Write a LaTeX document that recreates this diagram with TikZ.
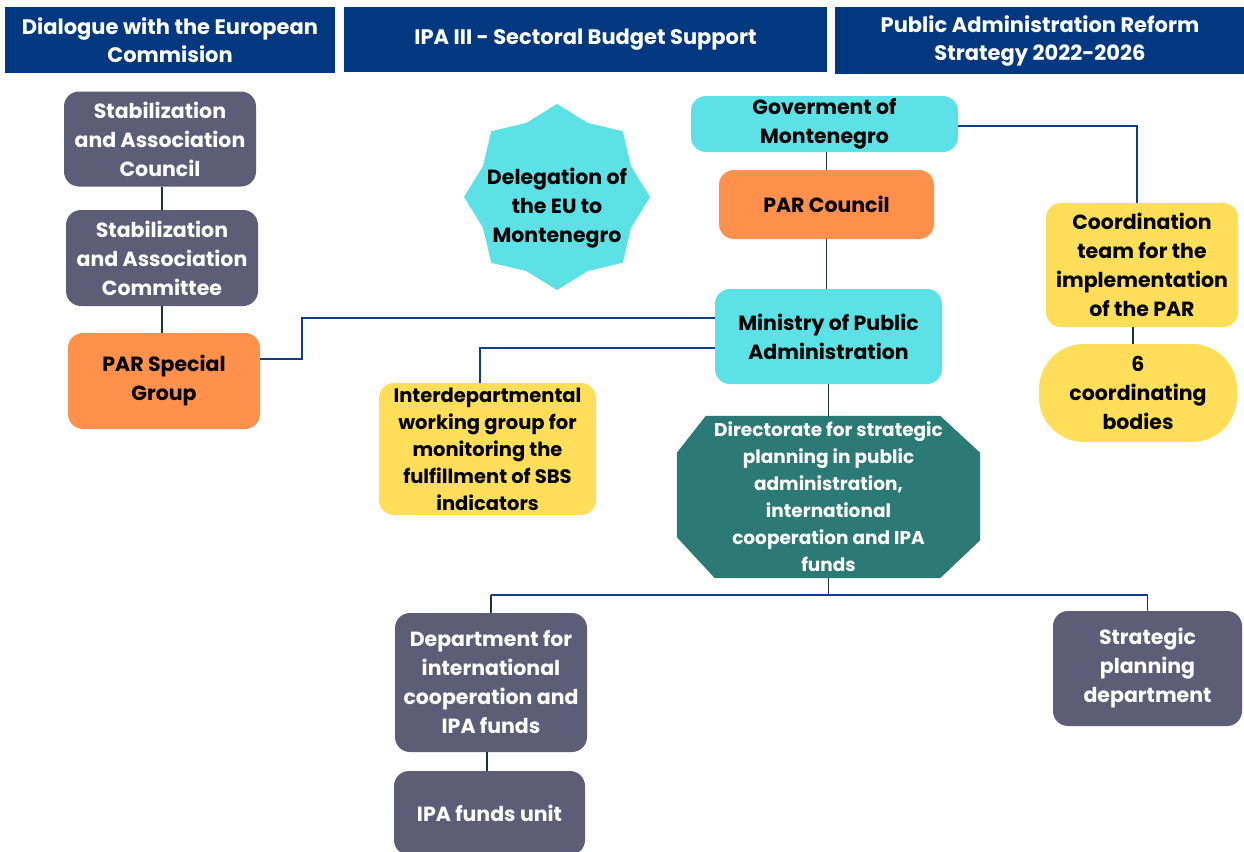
\documentclass[tikz,border=0pt]{standalone}
\usepackage{fontspec}
\setmainfont{Poppins}
\usepackage{tikz}
\usetikzlibrary{shapes.geometric,calc,backgrounds}

\definecolor{headblue}{RGB}{1,56,128}
\definecolor{slate}{RGB}{94,93,120}
\definecolor{parorange}{RGB}{255,145,77}
\definecolor{aqua}{RGB}{92,225,230}
\definecolor{sun}{RGB}{255,222,89}
\definecolor{deepteal}{RGB}{44,122,118}
\definecolor{linedark}{RGB}{28,52,52}
\definecolor{lineblue}{RGB}{14,62,140}

\tikzset{
  box/.style={rounded corners=15pt, align=center, inner sep=0pt,
    font=\fontsize{20.5}{29}\selectfont\bfseries},
  header/.style={fill=headblue, text=white, align=center, inner sep=0pt,
    font=\fontsize{21}{28}\selectfont\bfseries},
  slatebox/.style={box, fill=slate, text=white, minimum width=192pt},
  orangebox/.style={box, fill=parorange, text=black},
  cyanbox/.style={box, fill=aqua, text=black},
  yellowbox/.style={box, fill=sun, text=black},
  darkline/.style={draw=linedark, line width=1.6pt},
  blueline/.style={draw=lineblue, line width=2.2pt}
}

\begin{document}
\begin{tikzpicture}[x=1pt, y=-1pt]
\useasboundingbox (0,0) rectangle (1244,851);

% column headers
\node[header, minimum width=330pt, minimum height=66pt] (dialogue) at (170,40) {Dialogue with the European\\Commision};
\node[header, minimum width=483pt, minimum height=65pt] (ipa3) at (585.5,39.5) {IPA III - Sectoral Budget Support};
\node[header, minimum width=410pt, minimum height=67pt] (strategy) at (1040,40.5) {Public Administration Reform\\Strategy 2022-2026};

% left column
\node[slatebox, minimum height=95pt] (council) at (160,139) {Stabilization\\and Association\\Council};
\node[slatebox, minimum height=96pt] (committee) at (162,258) {Stabilization\\and Association\\Committee};
\node[orangebox, minimum width=192pt, minimum height=96pt] (special) at (164,381) {PAR Special\\Group};

% middle
\node[star, star points=8, star point ratio=1.16, minimum size=186pt, inner sep=0pt, fill=aqua] (deleg) at (557,197) {};
\node[box] (delegtext) at (557,208) {Delegation of\\the EU to\\Montenegro};
\node[cyanbox, minimum width=267pt, minimum height=56pt] (gov) at (824.5,124) {Goverment of\\Montenegro};
\node[orangebox, minimum width=215pt, minimum height=69pt] (parcouncil) at (826.5,204.5) {PAR Council};
\node[cyanbox, minimum width=227pt, minimum height=95pt] (ministry) at (828.5,336.5) {Ministry of Public\\Administration};
\node[yellowbox, minimum width=217pt, minimum height=132pt, font=\fontsize{19.5}{27}\selectfont\bfseries] (interdept) at (487.5,449) {Interdepartmental\\working group for\\monitoring the\\fulfillment of SBS\\indicators};
\node[align=center, text=white, inner sep=0pt, minimum width=303pt, minimum height=162pt, font=\fontsize{18.5}{27}\selectfont\bfseries] (directorate) at (828.5,497) {Directorate for strategic\\planning in public\\administration,\\international\\cooperation and IPA\\funds};

% right column
\node[yellowbox, minimum width=192pt, minimum height=124pt] (coord) at (1142,265) {Coordination\\team for the\\implementation\\of the PAR};
\node[yellowbox, rounded corners=45pt, minimum width=198pt, minimum height=98pt] (bodies) at (1138,393) {6\\coordinating\\bodies};

% bottom row
\node[slatebox, minimum height=139pt] (dept) at (491,682.5) {Department for\\international\\cooperation and\\IPA funds};
\node[slatebox, minimum width=189pt, minimum height=115pt] (strat) at (1147.5,668.5) {Strategic\\planning\\department};
\node[slatebox, minimum width=191pt, minimum height=84pt] (unit) at (489.5,813) {IPA funds unit};

% connectors
\draw[darkline] (committee.north |- council.south) -- (committee.north);
\draw[darkline] (committee.south) -- (committee.south |- special.north);
\draw[blueline] ([yshift=22pt]special.east) -- ++(42,0) |- ([yshift=18.5pt]ministry.west);
\draw[blueline] ([yshift=-11.5pt]ministry.west) -| ([xshift=-7.5pt]interdept.north);
\draw[darkline] (parcouncil.north |- gov.south) -- (parcouncil.north);
\draw[darkline] (parcouncil.south) -- (parcouncil.south |- ministry.north);
\draw[darkline] (ministry.south) -- (directorate.north);
\draw[blueline] ([yshift=-2pt]gov.east) -| ([xshift=-5pt]coord.north);
\draw[darkline] ([xshift=-9pt]coord.south) -- ([xshift=-9pt]coord.south |- bodies.north);
\draw[darkline] (directorate.south) -- ++(0,17) coordinate (split);
\draw[darkline] (split -| dept.north) -- (dept.north);
\draw[darkline] (split -| strat.north) -- (strat.north);
\draw[blueline] (split -| dept.north) -- (split -| strat.north);
\draw[darkline] ([xshift=-4pt]dept.south) -- ([xshift=-4pt]dept.south |- unit.north);

% page and octagon behind the directorate text
\begin{scope}[on background layer]
\fill[white] (0,0) rectangle (1244,851);
\fill[deepteal] ($(directorate.north west)+(29,0)$) -- ($(directorate.north east)+(-40,0)$)
  -- ($(directorate.north east)+(0,37)$) -- ($(directorate.south east)+(0,-38)$)
  -- ($(directorate.south east)+(-40,0)$) -- ($(directorate.south west)+(38,0)$)
  -- ($(directorate.south west)+(0,-41)$) -- ($(directorate.north west)+(0,37)$) -- cycle;
\end{scope}
\end{tikzpicture}
\end{document}
